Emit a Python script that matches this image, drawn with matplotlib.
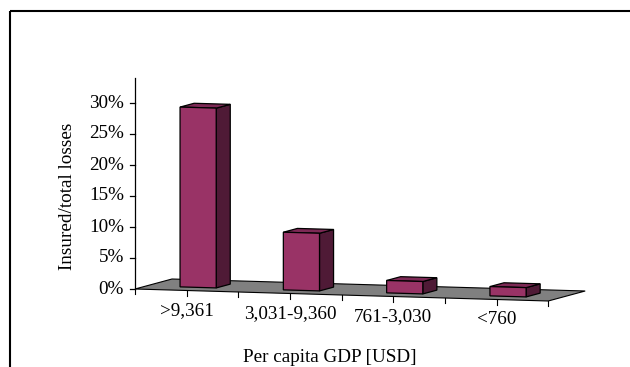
import matplotlib
matplotlib.use("Agg")
import matplotlib.pyplot as plt
from matplotlib.patches import Polygon

categories = [">9,361", "3,031-9,360", "761-3,030", "<760"]
values = [29.0, 9.3, 2.0, 1.5]          # insured / total losses, %
yticks = [0, 5, 10, 15, 20, 25, 30]
ytick_labels = [f"{t}%" for t in yticks]
ylabel = "Insured/total losses"
xlabel = "Per capita GDP [USD]"

W, H = 630, 367
fig = plt.figure(figsize=(W / 100, H / 100), dpi=100)
ax = fig.add_axes([0, 0, 1, 1])
ax.set_xlim(0, W)
ax.set_ylim(H, 0)
ax.axis("off")

# projection parameters (pixel geometry of the pseudo-3D chart)
ox, oy = 135.0, 289.0          # front-left origin of floor
cat_dx, cat_dy = 103.3, 3.0    # per category along the front edge
dep_dx, dep_dy = 37.0, -10.0   # full depth vector
val_dy = -6.2                  # per percent
ymax = 34.0

def proj(c, d, v):
    return (ox + c * cat_dx + d * dep_dx, oy + c * cat_dy + d * dep_dy + v * val_dy)

n = len(categories)
serif = "Liberation Serif"
fs = 13.8

# frame (top and left only)
ax.plot([10, W], [11, 11], color="black", lw=1.5, solid_capstyle="butt")
ax.plot([10, 10], [11, H], color="black", lw=1.5, solid_capstyle="butt")

# floor
floor = [proj(0, 0, 0), proj(n, 0, 0), proj(n, 1, 0), proj(0, 1, 0)]
ax.add_patch(Polygon(floor, closed=True, facecolor="#808080", edgecolor="black", lw=0.8, zorder=1))

# x ticks along front edge
for k in range(2 * n + 1):
    x, y = proj(k / 2, 0, 0)
    ax.plot([x, x], [y, y + 5], color="black", lw=0.8, zorder=2)

# y axis
x0, y0 = proj(0, 0, 0)
x1, y1 = proj(0, 0, ymax)
ax.plot([x0, x1], [y0, y1], color="black", lw=0.9, zorder=2)
for t, lab in zip(yticks, ytick_labels):
    x, y = proj(0, 0, t)
    ax.plot([x - 5, x], [y, y], color="black", lw=0.9, zorder=2)
    ax.text(x - 11, y, lab, ha="right", va="center", fontsize=fs, family=serif)

# bars
bw, d0, d1 = 0.35, 0.31, 0.69
front_c, top_c, side_c = "#993366", "#7d2955", "#4f1a36"
for i, v in enumerate(values):
    cl, cr = i + 0.5 - bw / 2, i + 0.5 + bw / 2
    front = [proj(cl, d0, 0), proj(cr, d0, 0), proj(cr, d0, v), proj(cl, d0, v)]
    side = [proj(cr, d0, 0), proj(cr, d1, 0), proj(cr, d1, v), proj(cr, d0, v)]
    top = [proj(cl, d0, v), proj(cr, d0, v), proj(cr, d1, v), proj(cl, d1, v)]
    for poly, col in ((side, side_c), (top, top_c), (front, front_c)):
        ax.add_patch(Polygon(poly, closed=True, facecolor=col, edgecolor="black", lw=0.9, zorder=3))
    lx, ly = proj(i + 0.5, 0, 0)
    ax.text(lx, ly + 20, categories[i], ha="center", va="center", fontsize=fs, family=serif)

# axis titles
ax.text(67, 196, ylabel, rotation=90, ha="center", va="center", fontsize=fs, family=serif)
ax.text(330, 357, xlabel, ha="center", va="center", fontsize=fs, family=serif)

fig.savefig("out.png", dpi=100)
